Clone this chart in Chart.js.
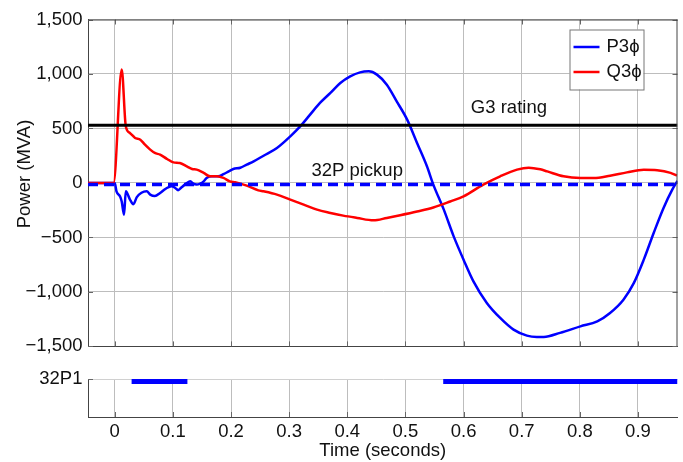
<!DOCTYPE html>
<html><head><meta charset="utf-8">
<script src="https://cdn.jsdelivr.net/npm/chart.js@4"></script>
<style>
html,body{margin:0;padding:0;background:#fff;overflow:hidden}
#wrap{position:relative;width:683px;height:462px}
canvas{position:absolute;left:0}
#main{top:0}
#lower{top:350px}
</style></head>
<body><div id="wrap"><canvas id="main" width="683" height="363"></canvas><canvas id="lower" width="683" height="112"></canvas></div>
<script>
// ---- data ----
const X_MIN = -0.046, X_MAX = 0.968;
const xTicks = [0, 0.1, 0.2, 0.3, 0.4, 0.5, 0.6, 0.7, 0.8, 0.9];
const xTickLabels = ['0', '0.1', '0.2', '0.3', '0.4', '0.5', '0.6', '0.7', '0.8', '0.9'];
const yTicks = [-1500, -1000, -500, 0, 500, 1000, 1500];
const yTickLabels = ['\u22121,500', '\u22121,000', '\u2212500', '0', '500', '1,000', '1,500'];
const tripTicks = [1];
const tripTickLabels = ['32P1'];

const pTime = [-0.046, 0.0, 0.003, 0.009, 0.012, 0.016, 0.019, 0.026, 0.032, 0.038, 0.046, 0.055, 0.061, 0.069, 0.078, 0.087, 0.092, 0.098, 0.104, 0.109, 0.115, 0.124, 0.130, 0.135, 0.141, 0.147, 0.153, 0.158, 0.167, 0.178, 0.187, 0.196, 0.204, 0.216, 0.227, 0.239, 0.256, 0.279, 0.302, 0.319, 0.336, 0.353, 0.371, 0.388, 0.405, 0.422, 0.437, 0.451, 0.468, 0.485, 0.503, 0.520, 0.537, 0.548, 0.566, 0.583, 0.600, 0.617, 0.640, 0.663, 0.686, 0.709, 0.726, 0.738, 0.766, 0.801, 0.830, 0.852, 0.875, 0.893, 0.910, 0.927, 0.944, 0.959, 0.968];
const pPower = [0, 0, -77, -123, -170, -291, -77, -150, -195, -130, -90, -77, -107, -120, -92, -55, -40, -31, -46, -66, -40, 0, 15, -6, -15, -6, 15, 46, 61, 61, 80, 106, 128, 140, 168, 198, 250, 321, 428, 519, 627, 734, 826, 917, 978, 1015, 1024, 994, 902, 749, 581, 367, 153, -15, -245, -490, -704, -903, -1101, -1239, -1346, -1401, -1413, -1413, -1376, -1316, -1270, -1193, -1071, -917, -704, -459, -229, -61, 20];

const qTime = [-0.046, -0.002, 0.012, 0.019, 0.026, 0.035, 0.044, 0.052, 0.061, 0.069, 0.078, 0.090, 0.101, 0.112, 0.124, 0.133, 0.141, 0.153, 0.164, 0.176, 0.187, 0.198, 0.207, 0.216, 0.227, 0.247, 0.256, 0.279, 0.302, 0.325, 0.348, 0.371, 0.393, 0.417, 0.445, 0.468, 0.491, 0.520, 0.548, 0.577, 0.600, 0.634, 0.663, 0.692, 0.712, 0.732, 0.744, 0.772, 0.801, 0.824, 0.852, 0.881, 0.910, 0.933, 0.956, 0.967];
const qPower = [0, 0, 1040, 520, 459, 413, 397, 351, 306, 275, 260, 220, 189, 183, 152, 128, 122, 92, 61, 61, 46, 15, 6, -6, -25, -68, -77, -107, -153, -199, -245, -275, -300, -321, -343, -321, -296, -262, -225, -170, -123, -15, 61, 122, 140, 125, 106, 61, 46, 46, 67, 97, 120, 116, 92, 67];

const G3_RATING = 530;
const PICKUP = -15;
const tripStart = [0.029, 0.565];
const tripEnd = [0.125, 0.968];

// ---- styles ----
const FONT = "'Liberation Sans', Arial, 'DejaVu Sans', sans-serif";
const TXT = '#111';
const GRID = '#bdbdbd';
const AXIS = '#444';

const pts = (t, v) => t.map((x, i) => ({ x, y: v[i] }));
const hline = (v) => [{ x: X_MIN, y: v }, { x: X_MAX, y: v }];

const tripData = [];
tripStart.forEach((s, i) => {
  tripData.push({ x: s, y: 1 }, { x: tripEnd[i], y: 1 });
  if (i < tripStart.length - 1) tripData.push({ x: (tripEnd[i] + tripStart[i + 1]) / 2, y: null });
});

const framePlugin = {
  id: 'frame',
  beforeDatasetsDraw(chart) {
    const { ctx, chartArea: a, scales } = chart;
    ctx.save();
    ctx.strokeStyle = '#666';
    ctx.lineWidth = 1;
    ctx.beginPath();
    yTicks.forEach(v => {
      const y = Math.round(scales.y.getPixelForValue(v)) + 0.5;
      ctx.moveTo(a.left, y); ctx.lineTo(a.left + 5, y);
      ctx.moveTo(a.right, y); ctx.lineTo(a.right - 5, y);
    });
    xTicks.forEach(v => {
      const x = Math.round(scales.x.getPixelForValue(v)) + 0.5;
      ctx.moveTo(x, a.bottom); ctx.lineTo(x, a.bottom - 5);
      ctx.moveTo(x, a.top); ctx.lineTo(x, a.top + 5);
    });
    ctx.stroke();
    ctx.restore();
  },
  afterDraw(chart) {
    const { ctx, chartArea: a, scales } = chart;
    ctx.save();
    ctx.strokeStyle = AXIS;
    ctx.lineWidth = 1;
    ctx.beginPath();
    ctx.moveTo(a.left, a.top + 0.5); ctx.lineTo(a.right, a.top + 0.5);
    ctx.moveTo(a.right - 0.5, a.top); ctx.lineTo(a.right - 0.5, a.bottom);
    ctx.stroke();
    ctx.fillStyle = TXT;
    ctx.font = '18.5px ' + FONT;
    ctx.textAlign = 'center';
    ctx.textBaseline = 'alphabetic';
    ctx.fillText('G3 rating', scales.x.getPixelForValue(0.678), scales.y.getPixelForValue(G3_RATING) - 12);
    ctx.fillText('32P pickup', scales.x.getPixelForValue(0.417), scales.y.getPixelForValue(PICKUP) - 8.5);
    ctx.save();
    ctx.translate(25, 174);
    ctx.rotate(-Math.PI / 2);
    ctx.textBaseline = 'middle';
    ctx.fillText('Power (MVA)', 0, 0);
    ctx.restore();
    const lx = a.right - 108, ly = a.top + 10, lw = 74, lh = 60;
    ctx.fillStyle = '#fff';
    ctx.fillRect(lx, ly, lw, lh);
    ctx.strokeStyle = '#777';
    ctx.lineWidth = 1;
    ctx.strokeRect(lx + 0.5, ly + 0.5, lw, lh);
    const items = [['P3\u03d5', '#0000ff'], ['Q3\u03d5', '#ff0000']];
    items.forEach(([label, col], i) => {
      const y = ly + 17.5 + i * 25;
      ctx.strokeStyle = col;
      ctx.lineWidth = 2.5;
      ctx.beginPath();
      ctx.moveTo(lx + 4, y); ctx.lineTo(lx + 30, y);
      ctx.stroke();
      ctx.fillStyle = TXT;
      ctx.textAlign = 'left';
      ctx.textBaseline = 'middle';
      ctx.fillText(label, lx + 37, y);
    });
    ctx.restore();
  }
};

const main = new Chart(document.getElementById('main'), {
  type: 'line',
  data: {
    datasets: [
      { label: '32P pickup', data: hline(PICKUP), borderColor: '#0000ff', borderWidth: 3.5, borderDash: [10, 6], pointRadius: 0, order: 0 },
      { label: 'G3 rating', data: hline(G3_RATING), borderColor: '#000000', borderWidth: 3, pointRadius: 0, order: 1 },
      { label: 'Q3\u03d5', data: pts(qTime, qPower), borderColor: '#ff0000', borderWidth: 2.5, pointRadius: 0, cubicInterpolationMode: 'monotone', order: 2 },
      { label: 'P3\u03d5', data: pts(pTime, pPower), borderColor: '#0000ff', borderWidth: 2.5, pointRadius: 0, cubicInterpolationMode: 'monotone', order: 3 }
    ]
  },
  options: {
    responsive: false, animation: false,
    layout: { padding: { left: 0, top: 19.5, right: 5.5, bottom: 0 } },
    plugins: { legend: { display: false }, tooltip: { enabled: false } },
    scales: {
      x: {
        type: 'linear', min: X_MIN, max: X_MAX,
        afterBuildTicks: s => { s.ticks = xTicks.map(v => ({ value: v })); },
        afterFit: s => { s.height = 0; },
        ticks: { display: false },
        grid: { color: GRID, lineWidth: 1, drawTicks: false },
        border: { color: AXIS, width: 1 }
      },
      y: {
        type: 'linear', min: -1500, max: 1500,
        afterBuildTicks: s => { s.ticks = yTicks.map(v => ({ value: v })); },
        afterFit: s => { s.width = 88; },
        ticks: { callback: v => yTickLabels[yTicks.indexOf(v)], font: { family: FONT, size: 18.5 }, color: TXT, padding: 5.5, autoSkip: false },
        grid: { color: GRID, lineWidth: 1, drawTicks: false },
        border: { color: AXIS, width: 1 }
      }
    }
  },
  plugins: [framePlugin]
});

const lowerFrame = {
  id: 'lowerFrame',
  afterDraw(chart) {
    const { ctx, chartArea: a, scales } = chart;
    ctx.save();
    ctx.strokeStyle = '#666';
    ctx.lineWidth = 1;
    ctx.beginPath();
    const y = Math.round(scales.y.getPixelForValue(1)) + 0.5;
    ctx.moveTo(a.left, y); ctx.lineTo(a.left + 5, y);
    xTicks.forEach(v => {
      const x = Math.round(scales.x.getPixelForValue(v)) + 0.5;
      ctx.moveTo(x, a.bottom); ctx.lineTo(x, a.bottom - 5);
    });
    ctx.stroke();
    ctx.restore();
  }
};

const lower = new Chart(document.getElementById('lower'), {
  type: 'line',
  data: {
    datasets: [
      { label: '32P1', data: tripData, borderColor: '#0000ff', borderWidth: 10, borderCapStyle: 'butt', pointRadius: 0, spanGaps: false }
    ]
  },
  options: {
    responsive: false, animation: false,
    layout: { padding: { left: 0, top: 29, right: 5.5, bottom: 0 } },
    plugins: { legend: { display: false }, tooltip: { enabled: false } },
    scales: {
      x: {
        type: 'linear', min: X_MIN, max: X_MAX,
        afterBuildTicks: s => { s.ticks = xTicks.map(v => ({ value: v })); },
        afterFit: s => { s.height = 45; },
        ticks: { callback: v => xTickLabels[xTicks.indexOf(v)], font: { family: FONT, size: 18.5 }, color: TXT, padding: 3.5, autoSkip: false, maxRotation: 0 },
        grid: { color: GRID, lineWidth: 1, drawTicks: false },
        border: { color: AXIS, width: 1 },
        title: { display: true, text: 'Time (seconds)', font: { family: FONT, size: 18.5 }, color: TXT, padding: { top: 0, bottom: 0 } }
      },
      y: {
        type: 'linear', min: 0, max: 1,
        afterBuildTicks: s => { s.ticks = tripTicks.map(v => ({ value: v })); },
        afterFit: s => { s.width = 88; },
        ticks: { callback: v => tripTickLabels[tripTicks.indexOf(v)], font: { family: FONT, size: 18.5 }, color: TXT, padding: 5.5 },
        grid: { color: '#d0d0d0', lineWidth: 1, drawTicks: false },
        border: { color: AXIS, width: 1 }
      }
    }
  },
  plugins: [lowerFrame]
});
</script></body></html>
